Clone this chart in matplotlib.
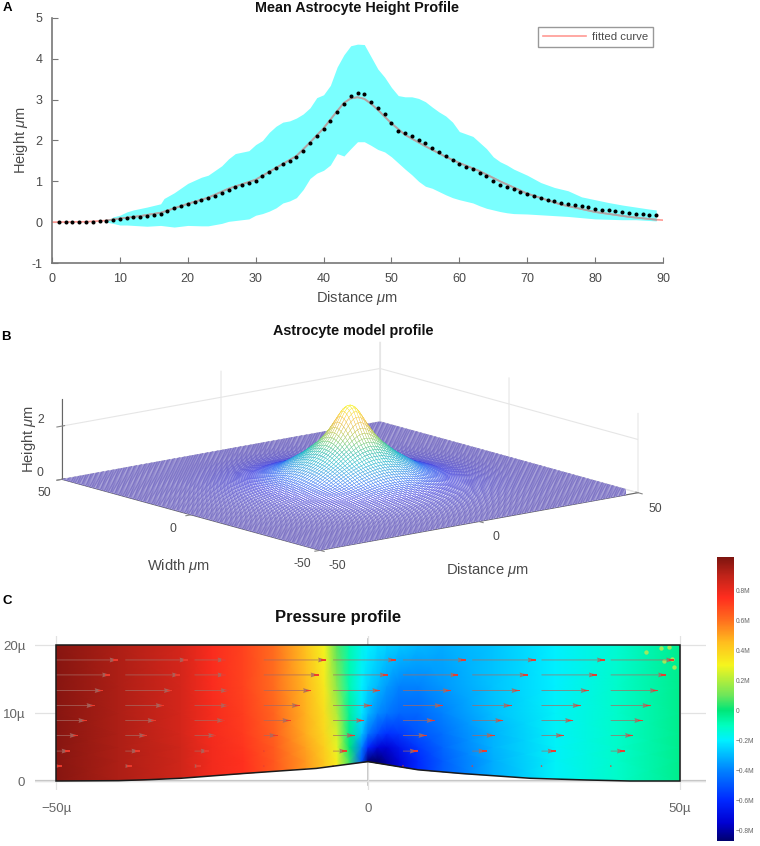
import numpy as np
import matplotlib
matplotlib.use('Agg')
import matplotlib.pyplot as plt
from matplotlib.colors import LinearSegmentedColormap, Normalize
from matplotlib.patches import Polygon
from mpl_toolkits.mplot3d import proj3d

plt.rcParams['font.family'] = ['Liberation Sans', 'DejaVu Sans']
plt.rcParams['mathtext.fontset'] = 'custom'
plt.rcParams['mathtext.it'] = 'Liberation Sans:italic'
plt.rcParams['mathtext.rm'] = 'Liberation Sans'
plt.rcParams['axes.unicode_minus'] = False
plt.rcParams['xtick.color'] = '#888888'
plt.rcParams['ytick.color'] = '#888888'

W, H = 760, 846
GREY = '#4a4a4a'

# ---------------- Panel A data
mean_x = list(range(1, 90))
mean_h = [0, 0, 0, 0, 0.01, 0.01, 0.02, 0.02, 0.06, 0.08, 0.10, 0.12, 0.13, 0.15, 0.17, 0.20, 0.28, 0.34, 0.40, 0.45,
          0.50, 0.54, 0.58, 0.64, 0.71, 0.78, 0.86, 0.90, 0.95, 1.02, 1.12, 1.22, 1.33, 1.42, 1.50, 1.60, 1.75, 1.95, 2.10, 2.28,
          2.48, 2.70, 2.90, 3.10, 3.17, 3.15, 2.95, 2.80, 2.65, 2.43, 2.23, 2.19, 2.10, 2.02, 1.93, 1.82, 1.72, 1.61, 1.52, 1.43,
          1.36, 1.29, 1.21, 1.14, 1.00, 0.92, 0.86, 0.80, 0.75, 0.70, 0.64, 0.59, 0.55, 0.51, 0.48, 0.45, 0.42, 0.385, 0.36, 0.33,
          0.31, 0.29, 0.27, 0.25, 0.23, 0.21, 0.195, 0.18, 0.165]
fit_x = [0, 5, 8, 10, 13, 16, 20, 23, 26, 30, 33, 36, 38, 40, 42, 43, 44, 45, 46, 47, 48, 50, 52, 55, 58, 60, 63, 66, 70, 75, 80, 85, 89, 90]
fit_h = [0, 0.01, 0.04, 0.09, 0.15, 0.23, 0.45, 0.60, 0.82, 1.04, 1.33, 1.62, 1.95, 2.30, 2.72, 2.92, 3.03, 3.06, 3.02, 2.90, 2.75, 2.42, 2.14, 1.86, 1.60, 1.45, 1.25, 1.00, 0.70, 0.43, 0.25, 0.13, 0.06, 0.05]
band_x = [8, 9, 10, 11, 12, 14, 16, 16.5, 18, 20, 22, 23, 25, 26, 27, 29, 30, 31, 32, 33, 34, 35, 36, 37, 38, 39, 40, 41, 42, 43, 44, 45, 46, 47, 48, 49, 50,
          51, 52, 53, 54, 55, 56, 57, 58, 59, 60, 62, 63, 64, 65, 66, 67, 68, 70, 72, 74, 76, 78, 80, 82, 84, 86, 88, 89]
band_upper = [0.02, 0.13, 0.17, 0.25, 0.30, 0.37, 0.45, 0.58, 0.72, 0.95, 1.10, 1.15, 1.38, 1.55, 1.68, 1.75, 1.90, 2.00, 2.20, 2.35, 2.45, 2.48, 2.55, 2.65, 2.80, 3.05, 3.12, 3.35, 3.80, 4.10, 4.32, 4.36, 4.35, 4.05, 3.75, 3.55, 3.30,
              3.10, 3.07, 3.07, 3.03, 2.95, 2.82, 2.70, 2.60, 2.45, 2.22, 2.10, 1.95, 1.80, 1.60, 1.48, 1.40, 1.30, 1.15, 0.97, 0.85, 0.77, 0.62, 0.55, 0.48, 0.42, 0.37, 0.32, 0.30]
band_lower = [0, -0.03, -0.07, -0.07, -0.08, -0.10, -0.08, -0.09, -0.12, -0.08, -0.09, -0.09, -0.03, 0.02, 0.04, 0.08, 0.17, 0.21, 0.27, 0.35, 0.47, 0.52, 0.60, 0.80, 1.07, 1.20, 1.27, 1.40, 1.68, 1.62, 1.80, 1.97, 1.97, 1.88, 1.78, 1.72, 1.60,
              1.45, 1.30, 1.16, 1.00, 0.88, 0.83, 0.75, 0.67, 0.60, 0.55, 0.47, 0.40, 0.34, 0.30, 0.26, 0.23, 0.21, 0.20, 0.18, 0.16, 0.14, 0.11, 0.08, 0.07, 0.06, 0.06, 0.04, 0.03]

# ---------------- Panel B data
radial_r = [0, 1, 2, 3, 4, 5, 6, 7, 8, 10, 12, 15, 18, 20, 25, 30, 35, 40, 45, 50, 75]
radial_h = [3.06, 3.0, 2.85, 2.62, 2.38, 2.15, 1.95, 1.78, 1.62, 1.38, 1.15, 0.88, 0.62, 0.50, 0.28, 0.15, 0.08, 0.04, 0.02, 0.01, 0.0]
parula_stops = ['#5548b4', '#3f3fe0', '#2a6cf5', '#1f96e0', '#0fb4c4', '#35c49a', '#84ca63', '#c7c23c', '#f4ba3c', '#f9d72b', '#f9fb15']

# ---------------- Panel C data
p_x = [-50, -40, -30, -25, -20, -15, -10, -7, -5, -3, -1, 0, 1.5, 3, 5, 8, 12, 20, 30, 40, 50]
p_y = [0, 3, 5, 7, 10, 14, 20]
p_y0 = [1.0, .93, .86, .78, .74, .65, .52, .42, .32, .05, -.5, -.85, -.87, -.8, -.72, -.6, -.48, -.32, -.19, -.12, -.03]
p_y3 = [1.0, .93, .86, .78, .74, .65, .52, .42, .32, .05, -.5, -.85, -.87, -.8, -.72, -.6, -.48, -.32, -.19, -.12, -.03]
p_y5 = [1.0, .93, .86, .78, .73, .64, .50, .40, .28, 0, -.4, -.6, -.72, -.74, -.66, -.56, -.46, -.31, -.19, -.12, -.03]
p_y7 = [1.0, .93, .85, .77, .72, .63, .48, .38, .25, -.03, -.28, -.42, -.52, -.58, -.56, -.5, -.44, -.31, -.19, -.12, -.03]
p_y10 = [1.0, .93, .85, .77, .71, .62, .47, .36, .20, -.05, -.22, -.3, -.38, -.42, -.46, -.46, -.4, -.29, -.19, -.12, -.03]
p_y14 = [1.0, .93, .85, .76, .70, .60, .46, .33, .14, -.08, -.2, -.25, -.3, -.35, -.4, -.4, -.36, -.28, -.2, -.12, -.03]
p_y20 = [1.0, .93, .85, .76, .70, .60, .44, .30, .08, -.08, -.17, -.2, -.23, -.25, -.27, -.3, -.32, -.28, -.2, -.13, -.03]
floor_x = [-50, -40, -35, -30, -20, -8.3, 0, 5, 8, 15, 26, 35, 42, 50]
floor_y = [0, 0.05, 0.2, 0.4, 1.1, 1.85, 2.85, 2.1, 1.65, 1.1, 0.4, 0.15, 0, 0]
jet_vals = [-.87, -.75, -.6, -.4, -.2, -.1, 0, .1, .3, .45, .6, .75, .9, 1.02]
jet_cols = ['#00006e', '#0000d2', '#0028ff', '#0082ff', '#00f0ff', '#00ffbe', '#00e678', '#6ee65a', '#f5f51e', '#ffbe1e', '#ff6e1e', '#ff2d1e', '#be2319', '#7d140f']
arrow_x = [-50, -38.9, -27.8, -16.7, -5.6, 5.6, 16.7, 27.8, 38.9]
arrow_y = [2.2, 4.4, 6.7, 8.9, 11.1, 13.3, 15.6, 17.8]
arrow_len = [[1.0, 1.0, 1.0, 0.0, 0.0, 0.0, 0.2, 0.2, 0.2],
             [2.2, 2.3, 2.3, 0.2, 2.3, 2.4, 2.3, 2.3, 2.3],
             [3.5, 3.5, 3.5, 2.2, 3.5, 3.8, 3.6, 3.6, 3.6],
             [4.9, 4.9, 4.9, 4.3, 5.0, 5.1, 5.0, 5.1, 5.1],
             [6.2, 6.2, 5.5, 5.8, 6.2, 6.4, 6.3, 6.3, 6.4],
             [7.5, 7.5, 5.5, 7.6, 7.6, 7.7, 7.6, 7.6, 7.6],
             [8.7, 8.8, 5.0, 8.8, 8.8, 8.9, 8.9, 8.9, 8.9],
             [9.9, 10.0, 5.0, 10.0, 10.1, 10.1, 10.2, 10.2, 10.2]]
spot_x = [44.5, 47.0, 48.3, 48.7, 47.5, 49.0]
spot_y = [19.0, 19.6, 19.7, 18.0, 17.6, 16.8]
cbar_ticks = [-0.8, -0.6, -0.4, -0.2, 0, 0.2, 0.4, 0.6, 0.8]
cbar_labels = ['\u22120.8M', '\u22120.6M', '\u22120.4M', '\u22120.2M', '0', '0.2M', '0.4M', '0.6M', '0.8M']

fig = plt.figure(figsize=(W / 100, H / 100), dpi=100, facecolor='white')

def px_axes(x0, y0, x1, y1, **kw):
    return fig.add_axes([x0 / W, 1 - y1 / H, (x1 - x0) / W, (y1 - y0) / H], **kw)

def ptext(x, y, s, **kw):
    return fig.text(x / W, 1 - y / H, s, **kw)

# ---------------- Panel B (drawn first, so that it sits under the flat panels)
parula = LinearSegmentedColormap.from_list('parula_like', parula_stops)
ax3 = fig.add_axes([0.1, 0.2, 0.7, 0.6], projection='3d', proj_type='ortho')
ax3.set_facecolor('none')
ax3.patch.set_alpha(0)
grid_axis = np.arange(-50, 50.01, 0.8)
X, Y = np.meshgrid(grid_axis, grid_axis)
Z = np.interp(np.hypot(X, Y), radial_r, radial_h)
surf = ax3.plot_surface(X, Y, Z, rstride=1, cstride=1, color='white', shade=False, linewidth=0.25, antialiased=True)
zc = 0.25 * (Z[:-1, :-1] + Z[1:, :-1] + Z[:-1, 1:] + Z[1:, 1:]).ravel()
surf.set_edgecolor(parula(Normalize(0, 3.06)(zc)))
ax3.set_xlim(-50, 50, view_margin=0)
ax3.set_ylim(-50, 50, view_margin=0)
ax3.set_zlim(0, 3, view_margin=0)
ax3.set_xticks([-50, 0, 50])
ax3.set_yticks([-50, 0, 50])
ax3.set_zticks([0, 2])
ax3.set_box_aspect((1, 1, 0.2))
ax3.view_init(elev=12.9, azim=-129.05)
for a in (ax3.xaxis, ax3.yaxis, ax3.zaxis):
    a.pane.fill = False
    a.pane.set_edgecolor('none')
    a._axinfo['grid'].update(color='#e6e6e6', linewidth=0.8)
    a.line.set_color('#666666')
    a.line.set_linewidth(0.8)
    a.set_tick_params(labelsize=8.8, labelcolor=GREY, pad=0)
ax3.xaxis.set_tick_params(pad=6)
ax3.yaxis.set_tick_params(pad=4)
for t in ax3.get_zticklabels():
    t.set_va('bottom')
ax3.plot([50, 50], [50, 50], [0, 3], color='#e6e6e6', lw=0.8, zorder=0)

def corners():
    fig.canvas.draw()
    M = ax3.get_proj()
    out = []
    for p in ((-50, 50, 0), (-50, -50, 0), (50, -50, 0), (50, 50, 0)):
        xx, yy, _ = proj3d.proj_transform(*p, M)
        out.append(ax3.transData.transform((xx, yy)))
    return np.array(out)

for _ in range(3):
    c = corners()
    k = (638 - 62) / (c[2, 0] - c[0, 0])
    cx_now, cy_now = c.mean(axis=0)
    pos = ax3.get_position(original=True)
    px_w = pos.width * W * k
    px_h = pos.height * H * k
    ax_cx = (pos.x0 + pos.width / 2) * W
    ax_cy = (pos.y0 + pos.height / 2) * H
    tx = 350 - (ax_cx + (cx_now - ax_cx) * k)
    ty = (H - 486) - (ax_cy + (cy_now - ax_cy) * k)
    ax_cx += tx
    ax_cy += ty
    ax3.set_position([(ax_cx - px_w / 2) / W, (ax_cy - px_h / 2) / H, px_w / W, px_h / H])

ptext(353, 331, 'Astrocyte model profile', fontsize=10.4, fontweight='bold', ha='center', va='center', color='#111111')
ptext(179, 566, 'Width $\\mu$m', fontsize=10.6, color=GREY, ha='center', va='center')
ptext(487, 570, 'Distance $\\mu$m', fontsize=10.6, color=GREY, ha='center', va='center')
ptext(29, 439, 'Height $\\mu$m', fontsize=10.6, color=GREY, ha='center', va='center', rotation=90)

# ---------------- Panel A
ax = px_axes(52, 18, 663, 263)
ax.fill_between(band_x, band_lower, band_upper, color='#7affff', lw=0, zorder=1)
fit_line, = ax.plot(fit_x, fit_h, color='#ff9a94', lw=1.2, zorder=2, label='fitted curve')
ax.plot(fit_x[2:-1], fit_h[2:-1], color='#a8a8a8', lw=1.3, zorder=3)
dots, = ax.plot(mean_x, mean_h, ls='none', marker='o', ms=2.9, mfc='black', mec='black', mew=0, zorder=4)
dots.set_snap(False)
ax.set_xlim(0, 90)
ax.set_ylim(-1, 5)
ax.set_xticks(range(0, 91, 10))
ax.set_yticks(range(-1, 6))
for s in ('top', 'right'):
    ax.spines[s].set_visible(False)
for s in ('left', 'bottom'):
    ax.spines[s].set_color('#777777')
    ax.spines[s].set_linewidth(1.2)
ax.tick_params(direction='in', length=4, width=0.8, color='#777777', labelcolor=GREY, labelsize=9, pad=7)
ax.set_xlabel('Distance $\\mu$m', fontsize=10.5, color=GREY, labelpad=3)
ax.set_ylabel('Height $\\mu$m', fontsize=10.5, color=GREY, labelpad=1)
ptext(357, 8, 'Mean Astrocyte Height Profile', fontsize=10.4, fontweight='bold', ha='center', va='center', color='#111111')
leg = ax.legend(loc='upper left', bbox_to_anchor=((538 - 52) / 611, (263 - 27) / 245), fontsize=8.2, frameon=True,
                fancybox=False, edgecolor='#999999', framealpha=1, borderaxespad=0, handlelength=3.8, borderpad=0.45, handletextpad=0.45)
leg.get_frame().set_linewidth(1.0)
for t in leg.get_texts():
    t.set_color(GREY)

# ---------------- Panel C
jet_like = LinearSegmentedColormap.from_list('jet_like', [((v - jet_vals[0]) / (jet_vals[-1] - jet_vals[0]), c) for v, c in zip(jet_vals, jet_cols)], N=512)
axc = px_axes(35, 636, 706, 790)
px_per_x = 6.24
px_per_y = 6.8
axc.set_xlim((35 - 368) / px_per_x, (706 - 368) / px_per_x)
axc.set_ylim((781 - 790) / px_per_y, (781 - 636) / px_per_y)
P = np.array([p_y0, p_y3, p_y5, p_y7, p_y10, p_y14, p_y20])
mesh = axc.pcolormesh(p_x, p_y, P, cmap=jet_like, norm=Normalize(jet_vals[0], jet_vals[-1]), shading='gouraud', zorder=2)
outline = list(zip(floor_x, floor_y)) + [(50, 20), (-50, 20)]
clip = Polygon(outline, closed=True, transform=axc.transData, fc='none', ec='none')
axc.add_patch(clip)
mesh.set_clip_path(clip)
axc.add_patch(Polygon(outline, closed=True, fc='none', ec='#1a1a1a', lw=1.1, zorder=5))
axc.scatter(spot_x, spot_y, s=10, c='#c8e84a', lw=0, alpha=0.8, zorder=3)
AX, AY = np.meshgrid(arrow_x, arrow_y)
L = np.array(arrow_len)
axc.quiver(AX, AY, L, np.zeros_like(L), angles='xy', scale_units='xy', scale=1, units='xy', width=0.13,
           headwidth=6, headlength=10, headaxislength=9, color='#a86a62', alpha=0.85, zorder=4)
tip = np.minimum(L, 0.8)
axc.quiver(AX + L - tip, AY, tip, np.zeros_like(L), angles='xy', scale_units='xy', scale=1, units='xy', width=0.26,
           headwidth=1, headlength=0, headaxislength=0, color='#f03a2c', alpha=0.95, zorder=4.5)
axc.set_xticks([-50, 0, 50])
axc.set_xticklabels(['\u221250\u00b5', '0', '50\u00b5'])
axc.set_yticks([0, 10, 20])
axc.set_yticklabels(['0', '10\u00b5', '20\u00b5'])
axc.grid(True, color='#e2e2e2', lw=0.9, zorder=0)
axc.axhline(0, color='#c4c4c4', lw=1.6, zorder=1)
axc.plot([0, 0], [(781 - 785) / px_per_y, 20.9], color='#bdbdbd', lw=1.2, zorder=1)
for s in axc.spines.values():
    s.set_visible(False)
axc.set_facecolor('none')
axc.tick_params(length=0, labelcolor='#666666', labelsize=9.6)
axc.tick_params(axis='x', pad=9)
axc.tick_params(axis='y', pad=7)
ptext(338, 617, 'Pressure profile', fontsize=12, fontweight='bold', ha='center', va='center', color='#111111')

cax = px_axes(717, 557, 734, 841)
cb = fig.colorbar(mesh, cax=cax, ticks=cbar_ticks)
cb.set_ticklabels(cbar_labels)
cb.outline.set_visible(False)
cb.ax.tick_params(length=0, labelsize=4.8, labelcolor='#666666', pad=1.5)

ptext(7, 8, 'A', fontsize=9.5, fontweight='bold', ha='center', va='center')
ptext(6, 337, 'B', fontsize=9.5, fontweight='bold', ha='center', va='center')
ptext(7, 601, 'C', fontsize=9.5, fontweight='bold', ha='center', va='center')

fig.savefig('out.png', dpi=100)
